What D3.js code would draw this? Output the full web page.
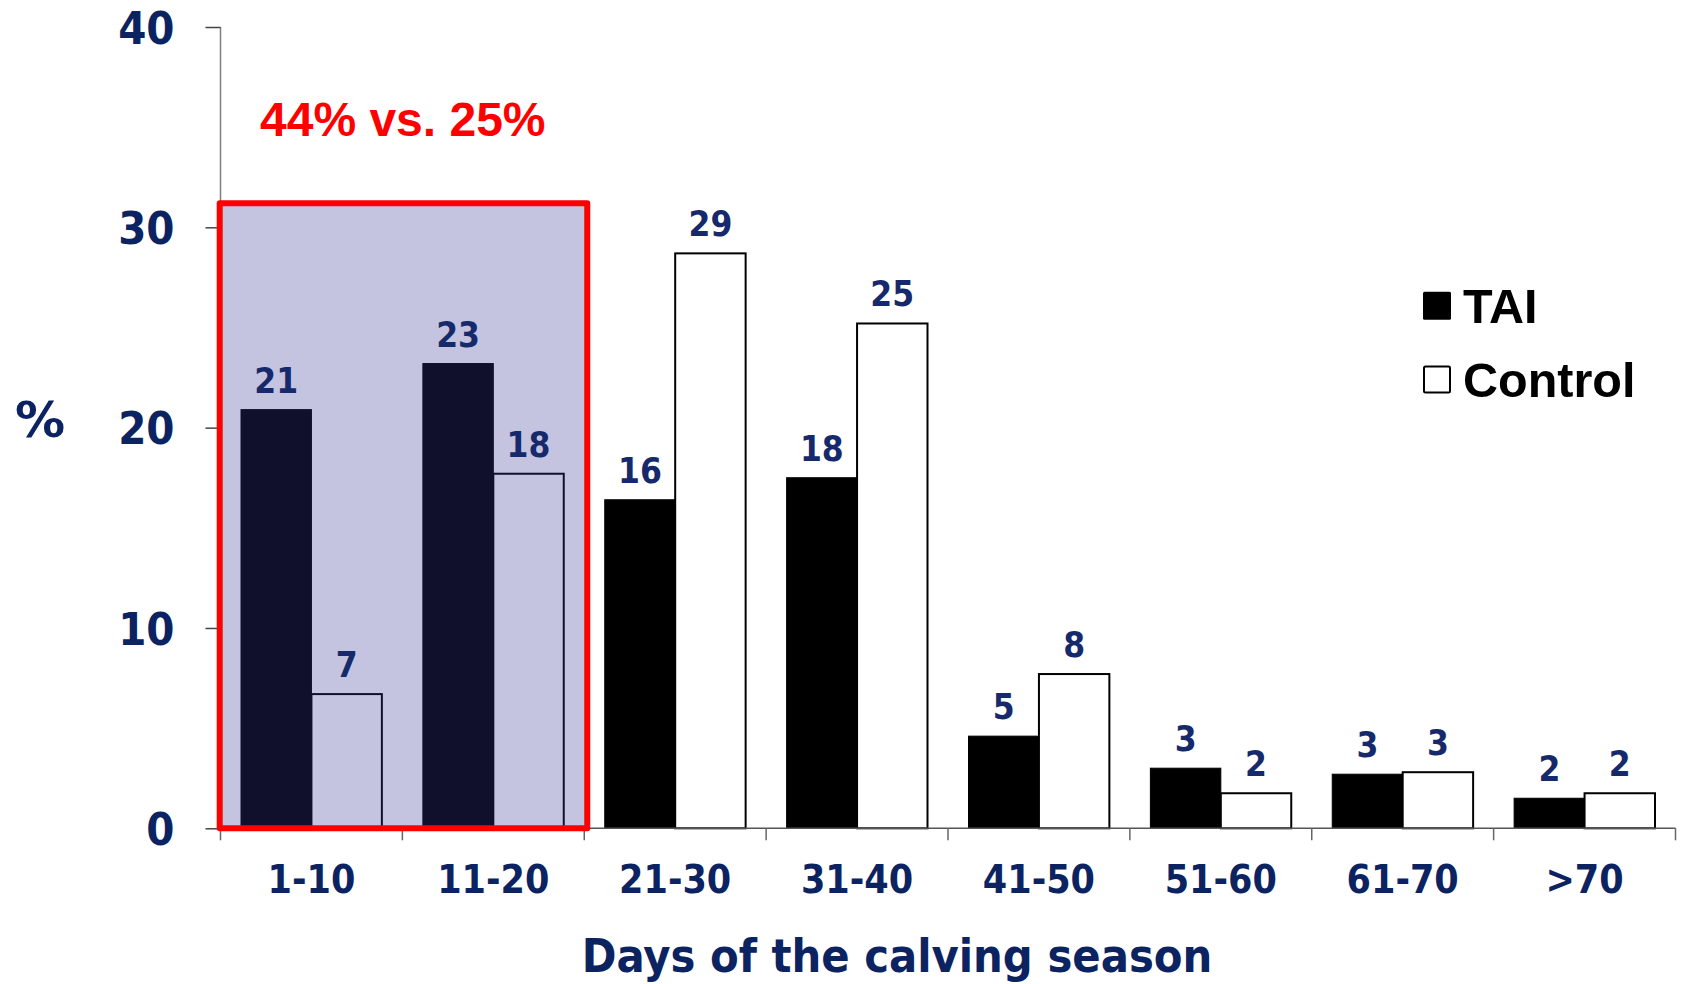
<!DOCTYPE html>
<html>
<head>
<meta charset="utf-8">
<script src="https://cdn.jsdelivr.net/npm/d3@7"></script>
<style>
  html, body { margin: 0; padding: 0; background: #fff; }
  svg { display: block; }
</style>
</head>
<body>
<svg id="chart" width="1683" height="984"></svg>
<script>
// ---- data ----
const categories = ["1-10", "11-20", "21-30", "31-40", "41-50", "51-60", "61-70", ">70"];
const seriesNames = ["TAI", "Control"];
const taiValues = [20.9, 23.2, 16.4, 17.5, 4.6, 3.0, 2.7, 1.5];
const controlValues = [6.7, 17.7, 28.7, 25.2, 7.7, 1.75, 2.8, 1.75];
const taiLabels = ["21", "23", "16", "18", "5", "3", "3", "2"];
const controlLabels = ["7", "18", "29", "25", "8", "2", "3", "2"];
const yTicks = [0, 10, 20, 30, 40];
const highlightCats = ["1-10", "11-20"];
const highlightTop = 31.2;
const highlightText = "44% vs. 25%";
const yTitle = "%";
const xTitle = "Days of the calving season";

// ---- layout ----
const svg = d3.select("#chart");
const navy = "#0c2362";
const valNavy = "#16296b";
const font = "'DejaVu Sans Condensed', 'DejaVu Sans', sans-serif";

const x = d3.scaleBand().domain(categories).range([220.5, 1675.5]).padding(0);
const step = x.bandwidth();
const x1 = d3.scaleBand().domain(seriesNames).range([20.5, step - 20.5]).padding(0);
const y = d3.scaleLinear().domain([0, 40]).range([828.3, 27]);

const rows = categories.map((c, i) => ({
  cat: c,
  vals: [
    { s: "TAI", v: taiValues[i], lab: taiLabels[i] },
    { s: "Control", v: controlValues[i], lab: controlLabels[i] }
  ]
}));

// layers
const bgLayer = svg.append("g");
const barLayer = svg.append("g");
const axisLayer = svg.append("g");
const overlayLayer = svg.append("g");
const labelLayer = svg.append("g");
const textLayer = svg.append("g");

bgLayer.append("rect").attr("width", 1683).attr("height", 984).attr("fill", "#fff");

// bars
const groups = barLayer.selectAll("g.cat").data(rows).join("g")
  .attr("class", "cat")
  .attr("transform", d => `translate(${x(d.cat)},0)`);

groups.selectAll("rect").data(d => d.vals).join("rect")
  .attr("x", d => x1(d.s))
  .attr("width", x1.bandwidth())
  .attr("y", d => y(d.v))
  .attr("height", d => y(0) - y(d.v))
  .attr("fill", d => d.s === "TAI" ? "#000" : "#fff")
  .attr("stroke", "#000")
  .attr("stroke-width", d => d.s === "TAI" ? 1 : 2);

// axes lines
axisLayer.append("line")
  .attr("x1", x.range()[0]).attr("x2", x.range()[0])
  .attr("y1", y(40)).attr("y2", y(0))
  .attr("stroke", "#7f7f7f").attr("stroke-width", 1.5);

axisLayer.append("line")
  .attr("x1", x.range()[0]).attr("x2", x.range()[1])
  .attr("y1", y(0)).attr("y2", y(0))
  .attr("stroke", "#555").attr("stroke-width", 1.5);

// y ticks via d3 axis
const yAxis = d3.axisLeft(y).tickValues(yTicks).tickSize(15).tickPadding(31).tickFormat(d3.format("d"));
const ya = axisLayer.append("g").attr("transform", `translate(${x.range()[0]},0)`).call(yAxis);
ya.select(".domain").remove();
ya.selectAll(".tick line").attr("stroke", "#444").attr("stroke-width", 1.5);
ya.selectAll(".tick text")
  .attr("fill", navy)
  .attr("font-family", font)
  .attr("font-stretch", "condensed")
  .attr("font-weight", "bold")
  .attr("font-size", 45)
  .attr("dy", "0.36em");

// x ticks at band boundaries
const boundaries = categories.map(c => x(c)).concat([x.range()[1]]);
axisLayer.append("g").selectAll("line").data(boundaries).join("line")
  .attr("x1", d => d).attr("x2", d => d)
  .attr("y1", y(0)).attr("y2", y(0) + 12)
  .attr("stroke", "#666").attr("stroke-width", 1.5);

// x labels
axisLayer.append("g").selectAll("text").data(categories).join("text")
  .attr("x", d => x(d) + step / 2)
  .attr("y", 893)
  .attr("text-anchor", "middle")
  .attr("fill", navy)
  .attr("font-family", font)
  .attr("font-stretch", "condensed")
  .attr("font-weight", "bold")
  .attr("font-size", 39)
  .text(d => d);

// highlight overlay
const hx0 = x(highlightCats[0]) - 0.8;
const hx1 = x(highlightCats[highlightCats.length - 1]) + step + 3;
overlayLayer.append("rect")
  .attr("x", hx0).attr("y", y(highlightTop))
  .attr("width", hx1 - hx0)
  .attr("height", y(0) - y(highlightTop))
  .attr("fill", "rgba(54,54,150,0.294)")
  .attr("stroke", "#ff0000")
  .attr("stroke-width", 6)
  .attr("stroke-linejoin", "round");

// value labels
rows.forEach(r => {
  r.vals.forEach(d => {
    labelLayer.append("text")
      .attr("x", x(r.cat) + x1(d.s) + x1.bandwidth() / 2)
      .attr("y", y(d.v) - 17)
      .attr("text-anchor", "middle")
      .attr("fill", valNavy)
      .attr("font-family", font)
      .attr("font-stretch", "condensed")
      .attr("font-weight", "bold")
      .attr("font-size", 35)
      .text(d.lab);
  });
});

// highlight text
textLayer.append("text")
  .attr("x", 260).attr("y", 136)
  .attr("fill", "#ff0000")
  .attr("font-family", "'Liberation Sans', Arial, sans-serif")
  .attr("font-weight", "bold")
  .attr("font-size", 48)
  .text(highlightText);

// y title
textLayer.append("text")
  .attr("x", 40).attr("y", 437)
  .attr("text-anchor", "middle")
  .attr("fill", navy)
  .attr("font-family", "'DejaVu Sans', sans-serif")
  .attr("font-weight", "bold")
  .attr("font-size", 50)
  .text(yTitle);

// x title
textLayer.append("text")
  .attr("x", 897).attr("y", 972)
  .attr("text-anchor", "middle")
  .attr("fill", navy)
  .attr("font-family", font)
  .attr("font-stretch", "condensed")
  .attr("font-weight", "bold")
  .attr("font-size", 46.5)
  .text(xTitle);

// legend
const legend = textLayer.append("g").attr("transform", "translate(1423,0)");
const legendY = [291.7, 365.5];
seriesNames.forEach((s, i) => {
  const isTai = s === "TAI";
  legend.append("rect")
    .attr("x", isTai ? 0 : 1).attr("y", legendY[i] + (isTai ? 0 : 1))
    .attr("width", isTai ? 28 : 26).attr("height", isTai ? 28 : 26)
    .attr("rx", 1.5)
    .attr("fill", isTai ? "#000" : "#fff")
    .attr("stroke", "#000")
    .attr("stroke-width", isTai ? 0 : 2);
  legend.append("text")
    .attr("x", 40).attr("y", legendY[i] + 31.5)
    .attr("fill", "#000")
    .attr("font-family", "'Liberation Sans', Arial, sans-serif")
    .attr("font-weight", "bold")
    .attr("font-size", 48.5)
    .text(s);
});
</script>
</body>
</html>
